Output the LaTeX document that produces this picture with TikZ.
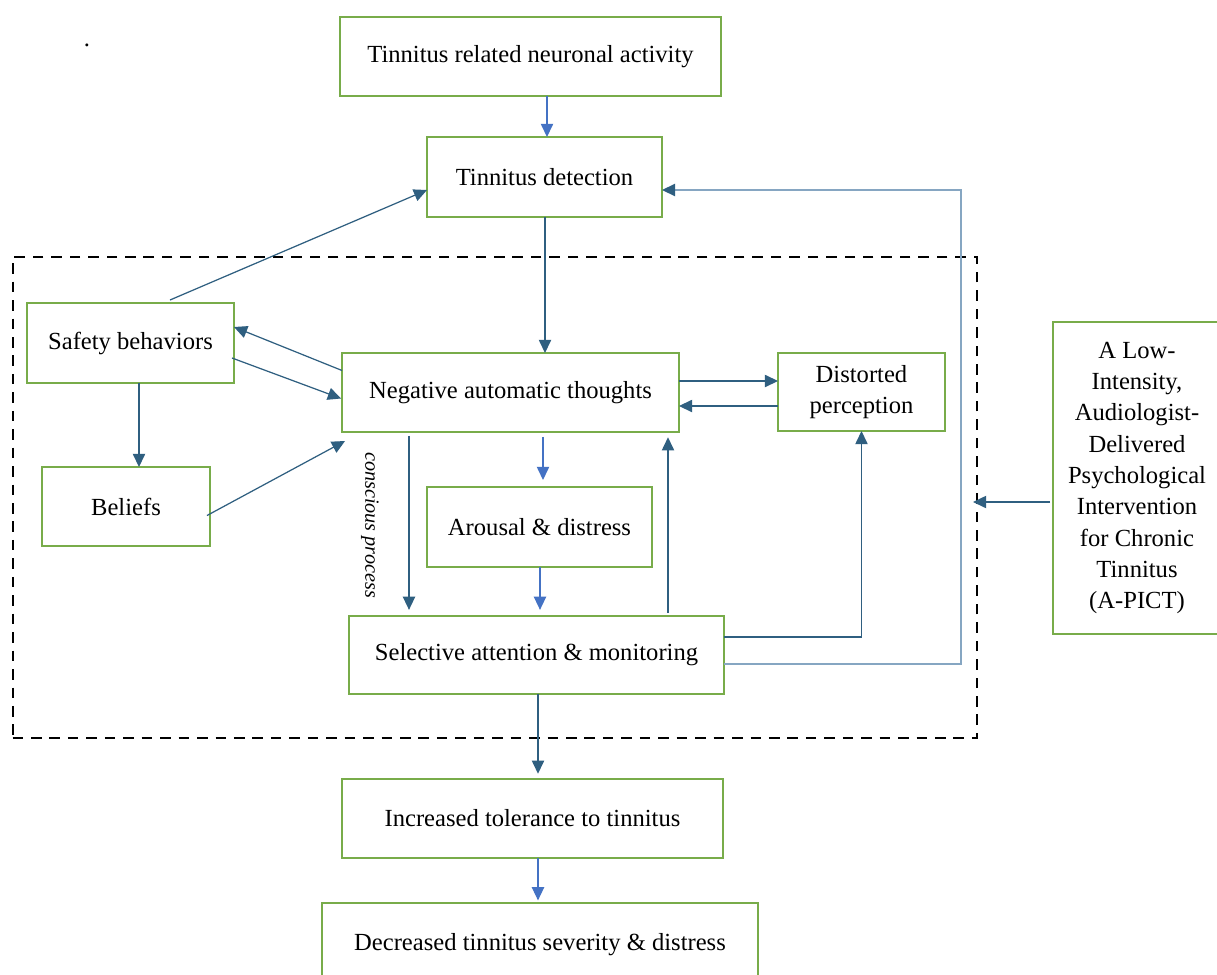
\documentclass[tikz,border=0pt]{standalone}
\usepackage{fontspec}
\setmainfont{Liberation Serif}
\usetikzlibrary{arrows.meta,calc}
\definecolor{boxgreen}{HTML}{78AC4A}
\definecolor{dk}{HTML}{2F5F80}
\definecolor{bl}{HTML}{4472C4}
\definecolor{lt}{HTML}{86A6C2}
\begin{document}
\begin{tikzpicture}[x=0.02cm,y=-0.02cm,
  gbox/.style={draw=boxgreen,line width=1.1pt,fill=white,inner sep=2pt,outer sep=0pt,align=center,
    font=\fontsize{14}{17.5}\selectfont},
  dkarrow/.style={draw=dk,line width=0.7pt,-{Triangle[length=7.5pt,width=7pt]}},
  blarrow/.style={draw=bl,line width=0.7pt,-{Triangle[length=7.5pt,width=7pt]}},
  ltarrow/.style={draw=lt,line width=0.8pt,-{Triangle[length=7.5pt,width=7pt,color=dk]}}]
\useasboundingbox[fill=white] (0,0) rectangle (1217,974);
% dashed frame
\node[draw=black,line width=1.2pt,dash pattern=on 6pt off 4.5pt,minimum width=19.30cm,minimum height=9.62cm,inner sep=0pt,outer sep=0pt] (frame) at (495,497.5) {};
% boxes
\node[gbox,minimum width=7.62cm,minimum height=1.58cm] (tnra) at (530.5,56.5) {Tinnitus related neuronal activity};
\node[gbox,minimum width=4.70cm,minimum height=1.60cm] (td) at (544.5,177) {Tinnitus detection};
\node[gbox,minimum width=4.14cm,minimum height=1.60cm] (sb) at (130.5,343) {Safety behaviors};
\node[gbox,minimum width=3.36cm,minimum height=1.58cm] (bel) at (126,506.5) {Beliefs};
\node[gbox,minimum width=6.74cm,minimum height=1.58cm] (nat) at (510.5,392.5) {Negative automatic thoughts};
\node[gbox,minimum width=3.34cm,minimum height=1.56cm] (dp) at (861.5,392) {Distorted\\perception};
\node[gbox,minimum width=4.50cm,minimum height=1.60cm] (ad) at (539.5,527) {Arousal \& distress};
\node[gbox,minimum width=7.50cm,minimum height=1.56cm] (sam) at (536.5,655) {Selective attention \& monitoring};
\node[gbox,minimum width=7.62cm,minimum height=1.58cm] (inc) at (532.5,818.5) {Increased tolerance to tinnitus};
\node[gbox,minimum width=8.72cm,minimum height=1.68cm] (dec) at (540,945) {Decreased tinnitus severity \& distress};
\node[gbox,minimum width=3.36cm,minimum height=6.24cm,font=\fontsize{14}{17.8}\selectfont] (apict) at (1137,478) {A Low-\\Intensity,\\Audiologist-\\Delivered\\Psychological\\Intervention\\for Chronic\\Tinnitus\\(A-PICT)};
% labels
\node[font=\fontsize{11.5}{13}\selectfont\itshape,rotate=-90,inner sep=0pt] (cp) at (370,525) {conscious process};
\node[font=\fontsize{14}{18}\selectfont,inner sep=0pt] (dot) at (87,45) {.};
% free coordinates
\coordinate (rt1) at (961,664);
\coordinate (rt2) at (961,190);
% connectors
\draw[blarrow] ($(tnra.south)+(16.5,0)$) coordinate (a1) -- (a1 |- td.north);
\draw[dkarrow] ($(sb.north)+(39.5,-3)$) -- ($(td.west)+(0,13)$);
\draw[dkarrow] ($(nat.west)+(0,-22)$) -- ($(sb.east)+(0,-16)$);
\draw[dkarrow] ($(sb.east)+(-2,15)$) -- ($(nat.west)+(-1,6)$);
\draw[dkarrow] ($(sb.south)+(8.5,0)$) coordinate (a2) -- (a2 |- bel.north);
\draw[dkarrow] ($(bel.east)+(-3,9)$) -- ($(nat.south west)+(3,9)$);
\draw[dkarrow] ($(td.south)+(0.5,0)$) coordinate (a3) -- (a3 |- nat.north);
\draw[dkarrow] ($(nat.east)+(0,-11.5)$) coordinate (a4) -- (a4 -| dp.west);
\draw[dkarrow] ($(dp.west)+(0,14)$) coordinate (a5) -- (a5 -| nat.east);
\draw[blarrow,shorten >=4pt] ($(nat.south)+(32.5,5)$) coordinate (a6) -- (a6 |- ad.north);
\draw[blarrow,shorten >=3.5pt] ($(ad.south)+(0.5,0)$) coordinate (a7) -- (a7 |- sam.north);
\draw[dkarrow,shorten >=3.5pt] ($(nat.south)+(-101.5,4)$) coordinate (a8) -- (a8 |- sam.north);
\draw[dkarrow,shorten >=3pt] ($(sam.north)+(131.5,-3)$) coordinate (a9) -- (a9 |- nat.south);
\draw[dkarrow] ($(sam.east)+(0,-18)$) -| (dp.south);
\draw[ltarrow] ($(sam.east)+(0,9)$) -- (rt1) -- (rt2) -- (rt2 -| td.east);
\draw[dkarrow,shorten >=-2.5pt] ($(apict.west)+(-3,24)$) coordinate (a10) -- (a10 -| frame.east);
\draw[dkarrow,shorten >=3pt] ($(sam.south)+(1.5,0)$) coordinate (a11) -- (a11 |- inc.north);
\draw[blarrow,shorten >=1.5pt] ($(inc.south)+(5.5,0)$) coordinate (a12) -- (a12 |- dec.north);
\end{tikzpicture}
\end{document}
